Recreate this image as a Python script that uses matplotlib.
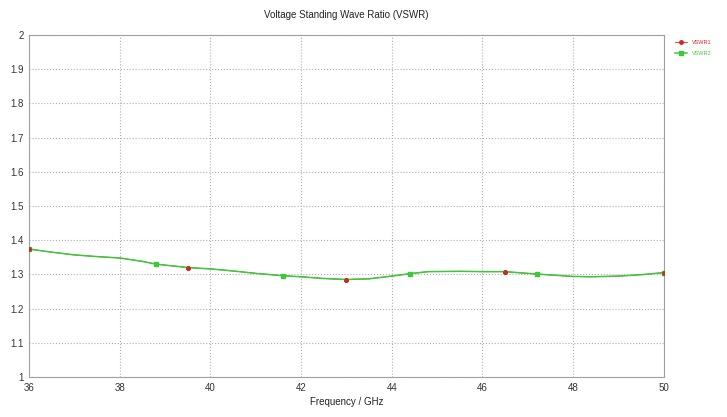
import matplotlib.pyplot as plt

plt.rcParams['font.family'] = ['Liberation Sans', 'DejaVu Sans']

# 읽어 온 데이터
freq = [36, 36.5, 37, 37.5, 38, 38.5, 38.8, 39.5, 40, 40.5, 41, 41.6, 42, 42.5,
        43, 43.5, 44, 44.4, 44.8, 45.5, 46, 46.5, 47.2, 48, 48.4, 49, 49.5, 50]
vswr1 = [1.374, 1.365, 1.357, 1.352, 1.348, 1.338, 1.330, 1.320, 1.316, 1.310,
         1.303, 1.296, 1.293, 1.288, 1.285, 1.287, 1.295, 1.302, 1.308, 1.309,
         1.308, 1.308, 1.301, 1.294, 1.293, 1.295, 1.299, 1.305]
vswr2 = list(vswr1)
marks1 = [0, 7, 14, 21, 27]
marks2 = [0, 6, 11, 17, 22, 27]
xticks = [36, 38, 40, 42, 44, 46, 48, 50]
yticks = [1, 1.1, 1.2, 1.3, 1.4, 1.5, 1.6, 1.7, 1.8, 1.9, 2]
ytick_labels = ['1', '1.1', '1.2', '1.3', '1.4', '1.5', '1.6', '1.7', '1.8', '1.9', '2']

fig = plt.figure(figsize=(7.27, 4.17), dpi=100)
ax = fig.add_axes([0.040, 0.096, 0.873, 0.820])

ax.plot(freq, vswr1, color='#e02020', lw=0.6, marker='o', ms=2.5,
        markevery=marks1, label='VSWR1')
ax.plot(freq, vswr2, color='#3cc83c', lw=1.1, marker='s', ms=2.5,
        markevery=marks2, label='VSWR2')
# 빨간 마커를 초록 선 위로
ax.plot([freq[i] for i in marks1], [vswr1[i] for i in marks1], 'o',
        color='#c03020', ms=2.5, zorder=5)

ax.set_xlim(36, 50)
ax.set_ylim(1, 2)
ax.set_xticks(xticks)
ax.set_yticks(yticks)
ax.set_yticklabels(ytick_labels)
ax.tick_params(length=0, labelsize=7, pad=4, colors='#333333')
ax.grid(True, color='#b0b0b0', ls=':', lw=0.8)
for s in ax.spines.values():
    s.set_color('#a0a0a0')

ax.set_title('Voltage Standing Wave Ratio (VSWR)', fontsize=7, pad=12, color='#222222')
ax.set_xlabel('Frequency / GHz', fontsize=7, labelpad=3, color='#222222')

leg = ax.legend(loc='upper left', bbox_to_anchor=(1.01, 1.0), fontsize=4,
                frameon=False, handlelength=2.2, labelspacing=1.0)
for t, c in zip(leg.get_texts(), ['#e02020', '#3cc83c']):
    t.set_color(c)

plt.savefig('out.png', dpi=100)
